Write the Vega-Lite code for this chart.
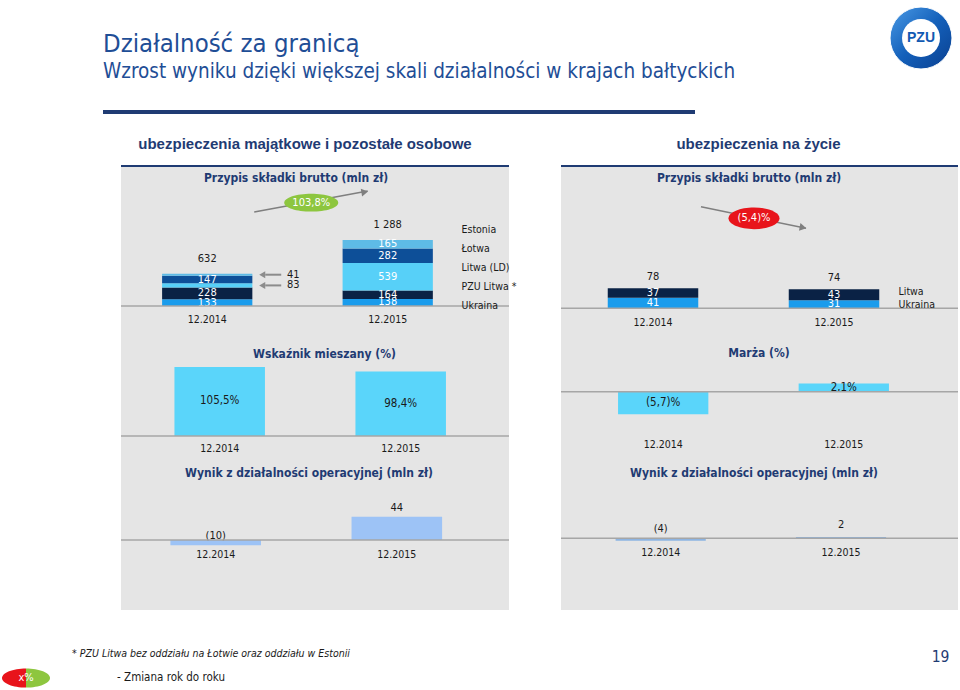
{
  "$schema": "https://vega.github.io/schema/vega-lite/v6.json",
  "background": "white",
  "padding": 0,
  "spacing": 0,
  "resolve": {"scale": {"color": "independent"}, "legend": {"color": "independent"}},
  "config": {
    "view": {"stroke": null},
    "font": "DejaVu Sans Condensed, DejaVu Sans, sans-serif",
    "text": {"font": "DejaVu Sans Condensed, DejaVu Sans, sans-serif", "fontSize": 11, "color": "#1a1a1a"},
    "axis": {"labelFont": "DejaVu Sans Condensed, DejaVu Sans, sans-serif", "labelFontSize": 10.5, "labelColor": "#1a1a1a", "domain": false, "ticks": false, "grid": false, "labelAngle": 0},
    "title": {"font": "DejaVu Sans Condensed, DejaVu Sans, sans-serif", "fontSize": 12, "fontWeight": "bold", "color": "#1F3B73", "frame": "group", "anchor": "middle"}
  },
  "vconcat": [
    {
      "hconcat": [
        {"width": 103, "height": 110, "data": {"values": []}, "mark": "point", "encoding": {}},
        {
          "width": 592, "height": 110,
          "data": {"values": []}, "mark": "point", "encoding": {},
          "title": {
            "text": "Działalność za granicą",
            "subtitle": "Wzrost wyniku dzięki większej skali działalności w krajach bałtyckich",
            "anchor": "start", "frame": "group", "offset": -82,
            "font": "DejaVu Sans Condensed, sans-serif",
            "subtitleFont": "DejaVu Sans Condensed, sans-serif",
            "fontSize": 25.5, "subtitleFontSize": 20.5, "fontWeight": "normal",
            "color": "#1F4E96", "subtitleColor": "#1F4E96", "subtitlePadding": 4
          }
        },
        {"width": 195, "height": 10, "data": {"values": []}, "mark": "point", "encoding": {}},
        {
          "width": 62, "height": 76,
          "data": {"values": [{"brand": "PZU"}]},
          "layer": [
            {"mark": {"type": "point", "shape": "circle", "size": 3844, "filled": true, "opacity": 1, "stroke": "white", "strokeWidth": 1,
              "color": {"gradient": "linear", "x1": 0, "y1": 0, "x2": 1, "y2": 1, "stops": [{"offset": 0, "color": "#4B9BE6"}, {"offset": 0.5, "color": "#1460BA"}, {"offset": 1, "color": "#0A3F8F"}]}}},
            {"mark": {"type": "point", "shape": "circle", "size": 1444, "filled": true, "opacity": 1, "color": "white"}},
            {"mark": {"type": "text", "font": "Liberation Sans, sans-serif", "fontWeight": "bold", "fontSize": 14, "color": "#1259B2"}, "encoding": {"text": {"field": "brand", "type": "nominal"}}}
          ]
        }
      ],
      "spacing": 0, "bounds": "flush"
    },
    {
      "hconcat": [
        {"width": 103, "height": 4, "data": {"values": []}, "mark": "point", "encoding": {}},
        {"width": 592, "height": 4, "view": {"fill": "#1F3B73"}, "data": {"values": []}, "mark": "point", "encoding": {}}
      ],
      "spacing": 0, "bounds": "flush"
    },
    {
      "hconcat": [
        {"width": 120, "height": 10, "data": {"values": []}, "mark": "point", "encoding": {}},
        {
          "columns": 2,
          "spacing": {"row": 0, "column": 52},
          "bounds": "flush",
          "resolve": {"scale": {"color": "independent"}, "legend": {"color": "independent"}},
          "concat": [
            {"width": 388, "height": 51, "data": {"values": []}, "mark": "point", "encoding": {},
             "title": {"text": "ubezpieczenia majątkowe i pozostałe osobowe", "anchor": "middle", "dx": -10, "offset": -37.5, "font": "Liberation Sans, Arial, sans-serif", "fontSize": 15, "fontWeight": "bold", "color": "#1F3B73"}},
            {"width": 397, "height": 51, "data": {"values": []}, "mark": "point", "encoding": {},
             "title": {"text": "ubezpieczenia na życie", "anchor": "middle", "dx": -1, "offset": -37.5, "font": "Liberation Sans, Arial, sans-serif", "fontSize": 15, "fontWeight": "bold", "color": "#1F3B73"}},
            {"width": 388, "height": 2, "view": {"fill": "#1F3B73"}, "data": {"values": []}, "mark": "point", "encoding": {}},
            {"width": 397, "height": 2, "view": {"fill": "#1F3B73"}, "data": {"values": []}, "mark": "point", "encoding": {}},
            {
              "width": 388, "height": 166,
              "view": {"fill": "#E5E5E5"},
              "title": {"text": "Przypis składki brutto (mln zł)", "offset": -18, "dx": -19},
              "data": {"values": [
                {"period": "12.2014", "region": "Ukraina", "premium": 133},
                {"period": "12.2014", "region": "PZU Litwa *", "premium": 228},
                {"period": "12.2014", "region": "Litwa (LD)", "premium": 83},
                {"period": "12.2014", "region": "Łotwa", "premium": 147},
                {"period": "12.2014", "region": "Estonia", "premium": 41},
                {"period": "12.2015", "region": "Ukraina", "premium": 138},
                {"period": "12.2015", "region": "PZU Litwa *", "premium": 164},
                {"period": "12.2015", "region": "Litwa (LD)", "premium": 539},
                {"period": "12.2015", "region": "Łotwa", "premium": 282},
                {"period": "12.2015", "region": "Estonia", "premium": 165}
              ]},
              "transform": [{"window": [{"op": "row_number", "as": "stack_rank"}], "groupby": ["period"]}],
              "layer": [
                {
                  "encoding": {"x": {"field": "period", "type": "nominal", "title": null, "scale": {"type": "band", "range": [41.1, 311.85], "paddingInner": 0.5, "paddingOuter": 0}, "axis": {"offset": -27, "labelPadding": 8.5, "title": null}}},
                  "layer": [
                    {"mark": {"type": "bar"}, "encoding": {
                      "y": {"field": "premium", "type": "quantitative", "stack": "zero", "scale": {"domain": [-527, 2715], "nice": false, "zero": false}, "axis": null},
                      "color": {"field": "region", "type": "nominal",
                        "scale": {"domain": ["Estonia", "Łotwa", "Litwa (LD)", "PZU Litwa *", "Ukraina"], "range": ["#5EBBE6", "#0D4F98", "#57D0F8", "#0A2245", "#1A9CEC"]},
                        "legend": {"orient": "none", "legendX": 330, "legendY": 57.5, "title": null, "symbolSize": 0, "symbolOpacity": 0, "symbolStrokeWidth": 0, "labelFont": "DejaVu Sans Condensed, DejaVu Sans, sans-serif", "labelFontSize": 10.5, "labelColor": "#1a1a1a", "rowPadding": 8.1, "labelOffset": 0, "padding": 0}},
                      "order": {"field": "stack_rank", "type": "quantitative"}}},
                    {"mark": {"type": "text", "color": "white", "fontSize": 11}, "encoding": {
                      "y": {"field": "premium", "type": "quantitative", "stack": "zero", "bandPosition": 0.5},
                      "detail": {"field": "region", "type": "nominal"},
                      "order": {"field": "stack_rank", "type": "quantitative"},
                      "text": {"field": "premium", "type": "quantitative"},
                      "opacity": {"condition": {"test": "datum.premium < 100", "value": 0}, "value": 1}}},
                    {"mark": {"type": "text", "fontSize": 11, "dx": 86}, "encoding": {
                      "y": {"field": "premium", "type": "quantitative", "stack": "zero", "bandPosition": 0.5},
                      "detail": {"field": "region", "type": "nominal"},
                      "order": {"field": "stack_rank", "type": "quantitative"},
                      "text": {"field": "premium", "type": "quantitative"},
                      "opacity": {"condition": {"test": "datum.premium >= 100", "value": 0}, "value": 1}}},
                    {"mark": {"type": "point", "shape": "triangle-left", "filled": true, "size": 49, "color": "#8C8C8C", "xOffset": 55}, "encoding": {
                      "y": {"field": "premium", "type": "quantitative", "stack": "zero", "bandPosition": 0.5},
                      "detail": {"field": "region", "type": "nominal"},
                      "order": {"field": "stack_rank", "type": "quantitative"},
                      "opacity": {"condition": {"test": "datum.premium >= 100", "value": 0}, "value": 1}}},
                    {"mark": {"type": "point", "shape": "stroke", "filled": false, "size": 256, "color": "#8C8C8C", "strokeWidth": 2, "xOffset": 66}, "encoding": {
                      "y": {"field": "premium", "type": "quantitative", "stack": "zero", "bandPosition": 0.5},
                      "detail": {"field": "region", "type": "nominal"},
                      "order": {"field": "stack_rank", "type": "quantitative"},
                      "opacity": {"condition": {"test": "datum.premium >= 100", "value": 0}, "value": 1}}},
                    {"transform": [{"aggregate": [{"op": "sum", "field": "premium", "as": "total"}], "groupby": ["period"]}, {"calculate": "replace(format(datum.total, ','), ',', ' ')", "as": "total_label"}],
                     "mark": {"type": "text", "fontSize": 11, "dy": -15},
                     "encoding": {"y": {"field": "total", "type": "quantitative"}, "text": {"field": "total_label", "type": "nominal"}}},
                    {"data": {"values": [{"from": "12.2014", "to": "12.2015", "change": "103,8%"}]},
                     "mark": {"type": "rule", "color": "#7F7F7F", "strokeWidth": 1.5, "xOffset": 47, "x2Offset": -20},
                     "encoding": {"x": {"field": "from", "type": "nominal", "title": null}, "x2": {"field": "to"}, "y": {"datum": 1836, "type": "quantitative"}, "y2": {"datum": 2246}}},
                    {"data": {"values": [{"from": "12.2014", "to": "12.2015", "change": "103,8%"}]},
                     "mark": {"type": "point", "shape": "triangle-right", "filled": true, "size": 60, "color": "#7F7F7F", "opacity": 1, "angle": -10, "xOffset": -23},
                     "encoding": {"x": {"field": "to", "type": "nominal", "title": null}, "y": {"datum": 2225, "type": "quantitative"}}},
                    {"data": {"values": [{"from": "12.2014", "to": "12.2015", "change": "103,8%"}]},
                     "mark": {"type": "point", "shape": "M-1,0A1,0.33,0,1,0,1,0A1,0.33,0,1,0,-1,0Z", "filled": true, "size": 2916, "color": "#8DC63F", "opacity": 1, "xOffset": 104},
                     "encoding": {"x": {"field": "from", "type": "nominal", "title": null}, "y": {"datum": 2018, "type": "quantitative"}}},
                    {"data": {"values": [{"from": "12.2014", "to": "12.2015", "change": "103,8%"}]},
                     "mark": {"type": "text", "color": "white", "fontSize": 11, "dx": 104},
                     "encoding": {"x": {"field": "from", "type": "nominal", "title": null}, "y": {"datum": 2018, "type": "quantitative"}, "text": {"field": "change", "type": "nominal"}}}
                  ]
                },
                {"data": {"values": [{"baseline": 0}]}, "mark": {"type": "rule", "color": "#A6A6A6", "strokeWidth": 1.5}, "encoding": {"y": {"datum": 0, "type": "quantitative"}}}
              ]
            },
            {
              "width": 397, "height": 166,
              "view": {"fill": "#E5E5E5"},
              "title": {"text": "Przypis składki brutto (mln zł)", "offset": -18, "dx": -10.5},
              "data": {"values": [
                {"period": "12.2014", "country": "Ukraina", "premium": 41},
                {"period": "12.2014", "country": "Litwa", "premium": 37},
                {"period": "12.2015", "country": "Ukraina", "premium": 31},
                {"period": "12.2015", "country": "Litwa", "premium": 43}
              ]},
              "transform": [{"window": [{"op": "row_number", "as": "stack_rank"}], "groupby": ["period"]}],
              "layer": [
                {
                  "encoding": {"x": {"field": "period", "type": "nominal", "title": null, "scale": {"type": "band", "range": [46.75, 318.25], "paddingInner": 0.5, "paddingOuter": 0}, "axis": {"offset": -24.7, "labelPadding": 9.4, "title": null}}},
                  "layer": [
                    {"mark": {"type": "bar"}, "encoding": {
                      "y": {"field": "premium", "type": "quantitative", "stack": "zero", "scale": {"domain": [-96.3, 551], "nice": false, "zero": false}, "axis": null},
                      "color": {"field": "country", "type": "nominal",
                        "scale": {"domain": ["Litwa", "Ukraina"], "range": ["#0A2245", "#1A9CEC"]},
                        "legend": {"orient": "none", "legendX": 327, "legendY": 119.75, "title": null, "symbolSize": 0, "symbolOpacity": 0, "symbolStrokeWidth": 0, "labelFont": "DejaVu Sans Condensed, DejaVu Sans, sans-serif", "labelFontSize": 10.5, "labelColor": "#1a1a1a", "rowPadding": 1.8, "labelOffset": 0, "padding": 0}},
                      "order": {"field": "stack_rank", "type": "quantitative"}}},
                    {"mark": {"type": "text", "color": "white", "fontSize": 11}, "encoding": {
                      "y": {"field": "premium", "type": "quantitative", "stack": "zero", "bandPosition": 0.5},
                      "detail": {"field": "country", "type": "nominal"},
                      "order": {"field": "stack_rank", "type": "quantitative"},
                      "text": {"field": "premium", "type": "quantitative"}}},
                    {"transform": [{"aggregate": [{"op": "sum", "field": "premium", "as": "total"}], "groupby": ["period"]}, {"calculate": "replace(format(datum.total, ','), ',', ' ')", "as": "total_label"}],
                     "mark": {"type": "text", "fontSize": 11, "dy": -11.5},
                     "encoding": {"y": {"field": "total", "type": "quantitative"}, "text": {"field": "total_label", "type": "nominal"}}},
                    {"data": {"values": [{"from": "12.2014", "to": "12.2015", "change": "(5,4)%"}]},
                     "mark": {"type": "rule", "color": "#7F7F7F", "strokeWidth": 1.5, "xOffset": 48, "x2Offset": -28},
                     "encoding": {"x": {"field": "from", "type": "nominal", "title": null}, "x2": {"field": "to"}, "y": {"datum": 396, "type": "quantitative"}, "y2": {"datum": 312}}},
                    {"data": {"values": [{"from": "12.2014", "to": "12.2015", "change": "(5,4)%"}]},
                     "mark": {"type": "point", "shape": "triangle-right", "filled": true, "size": 60, "color": "#7F7F7F", "opacity": 1, "angle": 11, "xOffset": -31},
                     "encoding": {"x": {"field": "to", "type": "nominal", "title": null}, "y": {"datum": 315, "type": "quantitative"}}},
                    {"data": {"values": [{"from": "12.2014", "to": "12.2015", "change": "(5,4)%"}]},
                     "mark": {"type": "point", "shape": "M-1,0A1,0.425,0,1,0,1,0A1,0.425,0,1,0,-1,0Z", "filled": true, "size": 2601, "color": "#E8141B", "opacity": 1, "xOffset": 101},
                     "encoding": {"x": {"field": "from", "type": "nominal", "title": null}, "y": {"datum": 351, "type": "quantitative"}}},
                    {"data": {"values": [{"from": "12.2014", "to": "12.2015", "change": "(5,4)%"}]},
                     "mark": {"type": "text", "color": "white", "fontSize": 11, "dx": 101},
                     "encoding": {"x": {"field": "from", "type": "nominal", "title": null}, "y": {"datum": 351, "type": "quantitative"}, "text": {"field": "change", "type": "nominal"}}}
                  ]
                },
                {"data": {"values": [{"baseline": 0}]}, "mark": {"type": "rule", "color": "#A6A6A6", "strokeWidth": 1.5}, "encoding": {"y": {"datum": 0, "type": "quantitative"}}}
              ]
            },
            {
              "width": 388, "height": 127,
              "view": {"fill": "#E5E5E5"},
              "title": {"text": "Wskaźnik mieszany (%)", "offset": -28, "dx": 9.5},
              "data": {"values": [
                {"period": "12.2014", "combined_ratio": 105.5},
                {"period": "12.2015", "combined_ratio": 98.4}
              ]},
              "transform": [{"calculate": "replace(format(datum.combined_ratio, '.1f'), '.', ',') + '%'", "as": "label"}],
              "layer": [
                {
                  "encoding": {"x": {"field": "period", "type": "nominal", "title": null, "scale": {"type": "band", "range": [53.45, 324.95], "paddingInner": 0.5, "paddingOuter": 0}, "axis": {"offset": -24, "labelPadding": 7.5, "title": null}}},
                  "layer": [
                    {"mark": {"type": "bar", "color": "#5AD5FA"}, "encoding": {"y": {"field": "combined_ratio", "type": "quantitative", "scale": {"domain": [-36.6, 157.3], "nice": false, "zero": false}, "axis": null}}},
                    {"mark": {"type": "text", "fontSize": 11.5}, "encoding": {"y": {"field": "combined_ratio", "type": "quantitative", "stack": "zero", "bandPosition": 0.5}, "text": {"field": "label", "type": "nominal"}}}
                  ]
                },
                {"data": {"values": [{"baseline": 0}]}, "mark": {"type": "rule", "color": "#A6A6A6", "strokeWidth": 1.5}, "encoding": {"y": {"datum": 0, "type": "quantitative"}}}
              ]
            },
            {
              "width": 397, "height": 127,
              "view": {"fill": "#E5E5E5"},
              "title": {"text": "Marża (%)", "offset": -26.7, "dx": -0.5},
              "data": {"values": [
                {"period": "12.2014", "margin": -5.7},
                {"period": "12.2015", "margin": 2.1}
              ]},
              "transform": [{"calculate": "datum.margin < 0 ? '(' + replace(format(-datum.margin, '.1f'), '.', ',') + ')%' : replace(format(datum.margin, '.1f'), '.', ',') + '%'", "as": "label"}],
              "layer": [
                {
                  "encoding": {"x": {"field": "period", "type": "nominal", "title": null, "scale": {"type": "band", "range": [57.05, 327.95], "paddingInner": 0.5, "paddingOuter": 0}, "axis": {"offset": -68.3, "labelPadding": 47.5, "title": null}}},
                  "layer": [
                    {"mark": {"type": "bar", "color": "#5AD5FA"}, "encoding": {"y": {"field": "margin", "type": "quantitative", "scale": {"domain": [-17.29, 14.86], "nice": false, "zero": false}, "axis": null}}},
                    {"mark": {"type": "text", "fontSize": 11.5}, "encoding": {"y": {"field": "margin", "type": "quantitative", "stack": "zero", "bandPosition": 0.5}, "text": {"field": "label", "type": "nominal"}}}
                  ]
                },
                {"data": {"values": [{"baseline": 0}]}, "mark": {"type": "rule", "color": "#A6A6A6", "strokeWidth": 1.5}, "encoding": {"y": {"datum": 0, "type": "quantitative"}}}
              ]
            },
            {
              "width": 388, "height": 150,
              "view": {"fill": "#E5E5E5"},
              "title": {"text": "Wynik z działalności operacyjnej (mln zł)", "offset": -20, "dx": -6},
              "data": {"values": [
                {"period": "12.2014", "operating_result": -10},
                {"period": "12.2015", "operating_result": 44}
              ]},
              "transform": [{"calculate": "datum.operating_result < 0 ? '(' + format(-datum.operating_result, 'd') + ')' : format(datum.operating_result, 'd')", "as": "label"}],
              "layer": [
                {
                  "encoding": {"x": {"field": "period", "type": "nominal", "title": null, "scale": {"type": "band", "range": [49.4, 321.1], "paddingInner": 0.5, "paddingOuter": 0}, "axis": {"offset": -70, "labelPadding": 9.2, "title": null}}},
                  "layer": [
                    {"mark": {"type": "bar", "color": "#9DC3F6"}, "encoding": {"y": {"field": "operating_result", "type": "quantitative", "scale": {"domain": [-132.1, 150.9], "nice": false, "zero": false}, "axis": null}}},
                    {"mark": {"type": "text", "fontSize": 11, "dy": -9}, "encoding": {"y": {"field": "operating_result", "type": "quantitative"}, "text": {"field": "label", "type": "nominal"}}}
                  ]
                },
                {"data": {"values": [{"baseline": 0}]}, "mark": {"type": "rule", "color": "#A6A6A6", "strokeWidth": 1.5}, "encoding": {"y": {"datum": 0, "type": "quantitative"}}}
              ]
            },
            {
              "width": 397, "height": 150,
              "view": {"fill": "#E5E5E5"},
              "title": {"text": "Wynik z działalności operacyjnej (mln zł)", "offset": -20.3, "dx": -5.5},
              "data": {"values": [
                {"period": "12.2014", "operating_result": -4},
                {"period": "12.2015", "operating_result": 2}
              ]},
              "transform": [{"calculate": "datum.operating_result < 0 ? '(' + format(-datum.operating_result, 'd') + ')' : format(datum.operating_result, 'd')", "as": "label"}],
              "layer": [
                {
                  "encoding": {"x": {"field": "period", "type": "nominal", "title": null, "scale": {"type": "band", "range": [54.6, 325.1], "paddingInner": 0.5, "paddingOuter": 0}, "axis": {"offset": -71.7, "labelPadding": 9.2, "title": null}}},
                  "layer": [
                    {"mark": {"type": "bar", "color": "#8DB4E2"}, "encoding": {"y": {"field": "operating_result", "type": "quantitative", "scale": {"domain": [-119.5, 130.5], "nice": false, "zero": false}, "axis": null}}},
                    {"mark": {"type": "text", "fontSize": 11, "dy": -12}, "encoding": {"y": {"field": "operating_result", "type": "quantitative"}, "text": {"field": "label", "type": "nominal"}}}
                  ]
                },
                {"data": {"values": [{"baseline": 0}]}, "mark": {"type": "rule", "color": "#A6A6A6", "strokeWidth": 1.5}, "encoding": {"y": {"datum": 0, "type": "quantitative"}}}
              ]
            }
          ]
        }
      ],
      "spacing": 0,
      "resolve": {"scale": {"color": "independent"}, "legend": {"color": "independent"}}
    },
    {"width": 1, "height": 36, "data": {"values": []}, "mark": "point", "encoding": {}},
    {
      "hconcat": [
        {"width": 72, "height": 22, "data": {"values": []}, "mark": "point", "encoding": {}},
        {"width": 278, "height": 16, "data": {"values": [{"note": "* PZU Litwa bez oddziału na Łotwie oraz oddziału w Estonii"}]},
         "mark": {"type": "text", "font": "DejaVu Sans Condensed, sans-serif", "fontStyle": "italic", "fontSize": 10.5, "color": "#1a1a1a"},
         "encoding": {"text": {"field": "note", "type": "nominal"}}},
        {"width": 583, "height": 22, "data": {"values": []}, "mark": "point", "encoding": {}},
        {"width": 15, "height": 22, "data": {"values": [{"page": "19"}]},
         "mark": {"type": "text", "fontSize": 15.5, "color": "#1F3B73"},
         "encoding": {"text": {"field": "page", "type": "nominal"}}}
      ],
      "spacing": 0, "bounds": "flush"
    },
    {
      "hconcat": [
        {"width": 2, "height": 20, "data": {"values": []}, "mark": "point", "encoding": {}},
        {"width": 48, "height": 20, "data": {"values": [{"symbol": "x%"}]},
         "layer": [
           {"mark": {"type": "point", "shape": "M0,-0.4A1,0.4,0,0,0,0,0.4Z", "filled": true, "size": 2304, "color": "#E8141B", "opacity": 1}},
           {"mark": {"type": "point", "shape": "M0,-0.4A1,0.4,0,0,1,0,0.4Z", "filled": true, "size": 2304, "color": "#8DC63F", "opacity": 1}},
           {"mark": {"type": "text", "color": "white", "fontSize": 11}, "encoding": {"text": {"field": "symbol", "type": "nominal"}}}
         ]},
        {"width": 65, "height": 20, "data": {"values": []}, "mark": "point", "encoding": {}},
        {"width": 112, "height": 20, "data": {"values": [{"key": "- Zmiana rok do roku"}]},
         "mark": {"type": "text", "fontSize": 11.5, "color": "#1a1a1a"},
         "encoding": {"text": {"field": "key", "type": "nominal"}}}
      ],
      "spacing": 0, "bounds": "flush"
    }
  ]
}
